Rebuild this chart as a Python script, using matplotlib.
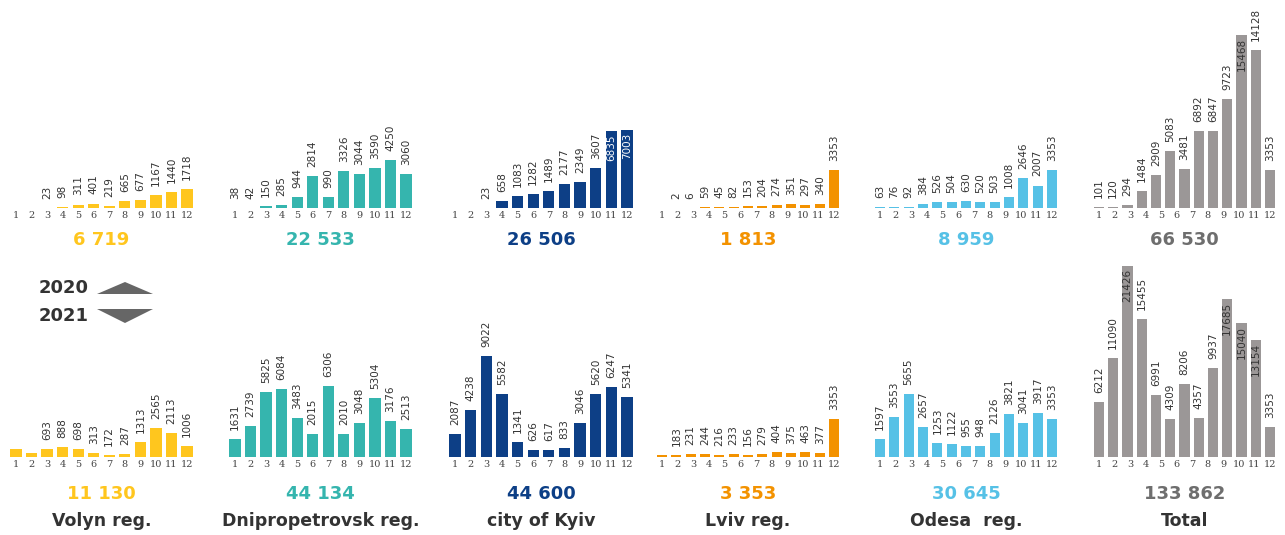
import matplotlib
matplotlib.use("Agg")
import matplotlib.pyplot as plt
from matplotlib.patches import Polygon
import numpy as np

# monthly counts per region (2020 top row, 2021 bottom row)
volyn_2020 = [0, 0, 23, 98, 311, 401, 219, 665, 677, 1167, 1440, 1718]
volyn_2021 = [700, 382, 693, 888, 698, 313, 172, 287, 1313, 2565, 2113, 1006]
dnipro_2020 = [38, 42, 150, 285, 944, 2814, 990, 3326, 3044, 3590, 4250, 3060]
dnipro_2021 = [1631, 2739, 5825, 6084, 3483, 2015, 6306, 2010, 3048, 5304, 3176, 2513]
kyiv_2020 = [0, 0, 23, 658, 1083, 1282, 1489, 2177, 2349, 3607, 6835, 7003]
kyiv_2021 = [2087, 4238, 9022, 5582, 1341, 626, 617, 833, 3046, 5620, 6247, 5341]
lviv_2020 = [0, 2, 6, 59, 45, 82, 153, 204, 274, 351, 297, 340, 3353]
lviv_2021 = [192, 183, 231, 244, 216, 233, 156, 279, 404, 375, 463, 377, 3353]
odesa_2020 = [63, 76, 92, 384, 526, 504, 630, 520, 503, 1008, 2646, 2007, 3353]
odesa_2021 = [1597, 3553, 5655, 2657, 1253, 1122, 955, 948, 2126, 3821, 3041, 3917, 3353]
total_2020 = [101, 120, 294, 1484, 2909, 5083, 3481, 6892, 6847, 9723, 15468, 14128, 3353]
total_2021 = [6212, 11090, 21426, 15455, 6991, 4309, 8206, 4357, 9937, 17685, 15040, 13154, 3353]

names = ["Volyn reg.", "Dnipropetrovsk reg.", "city of Kyiv", "Lviv reg.", "Odesa  reg.", "Total"]
totals_2020 = ["6 719", "22 533", "26 506", "1 813", "8 959", "66 530"]
totals_2021 = ["11 130", "44 134", "44 600", "3 353", "30 645", "133 862"]
month_labels = [str(m) for m in range(1, 13)]

series_2020 = [volyn_2020, dnipro_2020, kyiv_2020, lviv_2020, odesa_2020, total_2020]
series_2021 = [volyn_2021, dnipro_2021, kyiv_2021, lviv_2021, odesa_2021, total_2021]

colors = ["#FFC61E", "#35B5AE", "#0D3F86", "#F39200", "#56C1E6", "#9B9797"]
total_colors = ["#FFC61E", "#35B5AE", "#0D3F86", "#F39200", "#56C1E6", "#6E6E6E"]

# which bars carry no label, which labels sit inside the bar (panel, row) -> indices
hidden = {(0, 1): [0, 1], (3, 1): [0]}
inside = {(2, 0): [10, 11], (5, 0): [10], (5, 1): [2, 9, 10, 11]}

W, H = 1285, 535
fig = plt.figure(figsize=(W / 100, H / 100), dpi=100)
fig.patch.set_facecolor("white")

# pixel position of tick "1" and tick "12" in each column
cols = [(16, 187), (235, 406), (455, 627), (662, 834), (880, 1052), (1099, 1270)]
scale = 0.0112  # px per unit


def add_panel(i, row, vals):
    a, b = cols[i]
    n = len(vals)
    s = (b - a) / (n - 1)
    left, right = a - 0.6 * s, b + 0.6 * s
    if row == 0:
        base, top = 208, 0
    else:
        base, top = 457, 250
    ax = fig.add_axes([left / W, 1 - base / H, (right - left) / W, (base - top) / H])
    ax.set_xlim(-0.6, n - 1 + 0.6)
    ymax = (base - top) / scale
    if i == 5 and row == 1:
        ymax = (base - top) / 0.00891
    ax.set_ylim(0, ymax)
    x = np.arange(n)
    ax.bar(x, vals, width=0.72, color=colors[i], edgecolor="none")
    for sp in ax.spines.values():
        sp.set_visible(False)
    ax.set_yticks([])
    ax.set_xticks(np.linspace(0, n - 1, 12))
    ax.set_xticklabels(month_labels, fontsize=7, family="DejaVu Serif", color="#444444")
    ax.tick_params(axis="x", length=0, pad=2)
    ax.patch.set_alpha(0)
    hid = hidden.get((i, row), [])
    ins = inside.get((i, row), [])
    for k, v in enumerate(vals):
        if v == 0 or k in hid:
            continue
        if k in ins:
            c = "white" if i == 2 else "#333333"
            ax.annotate(str(v), (k, v), xytext=(0, -2), textcoords="offset points",
                        rotation=90, ha="center", va="top", fontsize=7.5, color=c)
        else:
            ax.annotate(str(v), (k, v), xytext=(0, 6.5), textcoords="offset points",
                        rotation=90, ha="center", va="bottom", fontsize=7.5, color="#333333",
                        annotation_clip=False)
    return ax


for i in range(6):
    add_panel(i, 0, series_2020[i])
    add_panel(i, 1, series_2021[i])
    cx = (cols[i][0] + cols[i][1]) / 2
    fig.text(cx / W, 1 - 240 / H, totals_2020[i], ha="center", va="center",
             fontsize=13, fontweight="bold", color=total_colors[i])
    fig.text(cx / W, 1 - 494 / H, totals_2021[i], ha="center", va="center",
             fontsize=13, fontweight="bold", color=total_colors[i])
    fig.text(cx / W, 1 - 521 / H, names[i], ha="center", va="center",
             fontsize=12.5, fontweight="bold", color="#333333")

# year legend
fig.text(64 / W, 1 - 288 / H, "2020", ha="center", va="center",
         fontsize=13, fontweight="bold", color="#333333")
fig.text(64 / W, 1 - 316 / H, "2021", ha="center", va="center",
         fontsize=13, fontweight="bold", color="#333333")
up = [(97, 294), (125, 282), (153, 294)]
down = [(97, 309), (125, 323), (153, 309)]
for tri in (up, down):
    pts = [(x / W, 1 - y / H) for x, y in tri]
    fig.add_artist(Polygon(pts, closed=True, transform=fig.transFigure,
                           facecolor="#666666", edgecolor="none"))

fig.savefig("out.png", dpi=100)
